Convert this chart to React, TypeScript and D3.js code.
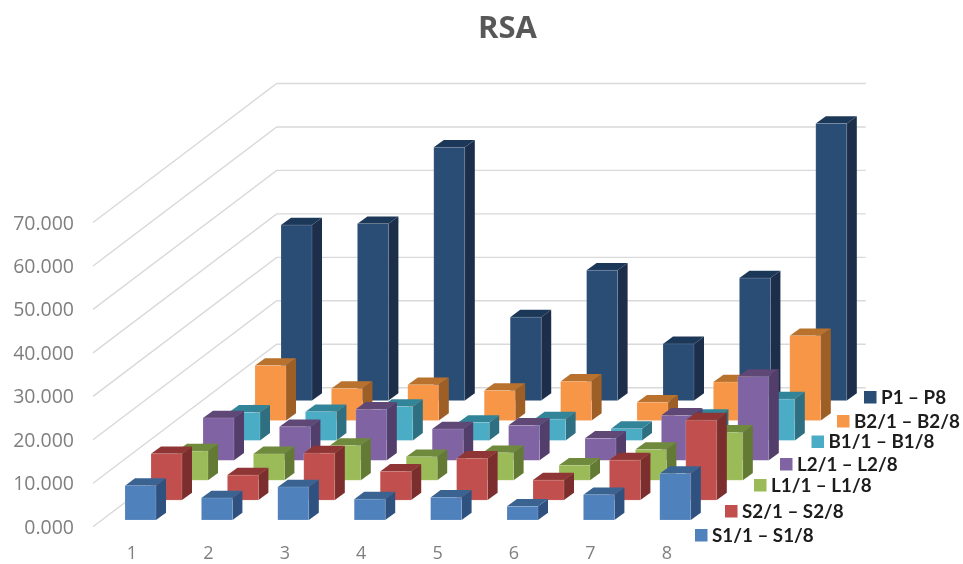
import * as d3 from "d3";

const categories = ["1", "2", "3", "4", "5", "6", "7", "8"];
const seriesNames = ["S1", "S2", "L1", "L2", "B1", "B2", "P"];
const legendLabels = [
  "S1/1 – S1/8",
  "S2/1 – S2/8",
  "L1/1 – L1/8",
  "L2/1 – L2/8",
  "B1/1 – B1/8",
  "B2/1 – B2/8",
  "P1 – P8",
];

const s1 = [7.9, 5.06, 7.6, 4.8, 5.2, 3.15, 5.8, 10.7];
const s2 = [10.65, 5.75, 10.8, 6.6, 9.6, 4.6, 9.2, 18.4];
const l1 = [6.7, 6.05, 8.0, 5.4, 6.3, 3.45, 7.05, 11.0];
const l2 = [9.75, 7.7, 11.75, 7.2, 8.05, 5.05, 10.35, 19.25];
const b1 = [6.45, 6.6, 7.8, 4.1, 4.9, 2.7, 5.5, 9.5];
const b2 = [12.65, 7.35, 8.2, 6.9, 9.0, 4.2, 8.85, 19.5];
const p = [40.4, 40.7, 58.3, 19.2, 30.0, 13.05, 28.2, 63.75];
const allSeries = [s1, s2, l1, l2, b1, b2, p];

const frontColors = ["#4f81bd", "#c0504d", "#9bbb59", "#8064a2", "#4bacc6", "#f79646", "#2c4d75"];
const topColors = ["#3a6492", "#8f3634", "#6f8a3c", "#5e4676", "#338599", "#b8722f", "#1f3858"];
const sideColors = ["#2f5180", "#7b2f2d", "#637a34", "#533e6a", "#2d6f82", "#9e5e27", "#1b2f4a"];

const yTicks = [0, 10, 20, 30, 40, 50, 60, 70];

// legend sits on a diagonal, one row per series, from the front row to the back
const legendX = d3.scaleOrdinal<string, number>().domain(seriesNames).range([695, 725, 754, 780, 811.5, 837, 864]);
const legendY = d3.scaleOrdinal<string, number>().domain(seriesNames).range([535, 511, 485, 464, 441.5, 421, 397]);

const width = 963;
const height = 564;
const barDepthX = 10;
const barDepthY = 7.3;

export default function App() {
  const xScale = d3
    .scaleBand<string>()
    .domain(categories)
    .range([102.3, 713.5])
    .paddingInner(0.594)
    .paddingOuter(0.297);
  const heightScale = d3.scaleLinear().domain([0, 70]).range([0, 304.2]);
  const rowX = d3.scalePoint<string>().domain(seriesNames).range([0, 156]);
  const rowBase = d3.scalePoint<string>().domain(seriesNames).range([520, 400.6]);

  // walls: left end, back corner and right end of each gridline
  const wallY = d3.scaleLinear().domain([0, 70]).range([526.7, 222.5]);
  const wallLeft = 93;
  const wallCornerX = 276.7;
  const wallRight = 865.7;
  const wallRise = 139;
  const gridLine = d3.line();

  const bw = xScale.bandwidth();
  const poly = (pts: [number, number][]) => pts.map((q) => q.join(",")).join(" ");

  return (
    <svg
      width={width}
      height={height}
      style={{ position: "absolute", left: 0, top: 0, background: "white" }}
    >
      <defs>
        <filter id="soft" x="0" y="0" width="100%" height="100%">
          <feGaussianBlur stdDeviation="0.4" />
        </filter>
      </defs>
      <g filter="url(#soft)">
        <text
          x={507.5}
          y={38}
          textAnchor="middle"
          fontFamily="'Open Sans'"
          fontWeight={700}
          fontSize={31}
          fill="#595959"
        >
          RSA
        </text>

        {yTicks.map((t) => (
          <g key={t}>
            <path
              d={
                gridLine([
                  [wallLeft, wallY(t)],
                  [wallCornerX, wallY(t) - wallRise],
                  [wallRight, wallY(t) - wallRise],
                ]) as string
              }
              fill="none"
              stroke="#d9d9d9"
              strokeWidth={1.4}
            />
            <text
              x={74}
              y={wallY(t)}
              dy="0.36em"
              textAnchor="end"
              fontFamily="'Open Sans'"
              fontSize={19.5}
              fill="#7f7f7f"
            >
              {d3.format(".3f")(t)}
            </text>
          </g>
        ))}

        {categories.map((c) => (
          <text
            key={c}
            x={(xScale(c) as number) + bw / 2 - 8.5}
            y={552.5}
            dy="0.36em"
            textAnchor="middle"
            fontFamily="'Open Sans'"
            fontSize={18}
            fill="#7f7f7f"
          >
            {c}
          </text>
        ))}

        {/* back row first so the front rows cover it */}
        {seriesNames
          .map((name, i) => ({ name, i }))
          .reverse()
          .map(({ name, i }) => (
            <g key={name}>
              {allSeries[i].map((v, j) => {
                const x0 = (xScale(categories[j]) as number) + (rowX(name) as number);
                const x1 = x0 + bw;
                const base = rowBase(name) as number;
                const top = base - heightScale(v);
                return (
                  <g key={j}>
                    <polygon
                      points={poly([
                        [x1, base],
                        [x1 + barDepthX, base - barDepthY],
                        [x1 + barDepthX, top - barDepthY],
                        [x1, top],
                      ])}
                      fill={sideColors[i]}
                    />
                    <polygon
                      points={poly([
                        [x0, top],
                        [x0 + barDepthX, top - barDepthY],
                        [x1 + barDepthX, top - barDepthY],
                        [x1, top],
                      ])}
                      fill={topColors[i]}
                    />
                    <rect
                      x={x0}
                      y={top}
                      width={bw}
                      height={heightScale(v)}
                      fill={frontColors[i]}
                      stroke="#ffffff"
                      strokeOpacity={0.25}
                      strokeWidth={0.6}
                    />
                  </g>
                );
              })}
            </g>
          ))}

        {seriesNames.map((name, i) => (
          <g key={name}>
            <rect
              x={legendX(name)}
              y={legendY(name) - 6}
              width={12.5}
              height={12.5}
              fill={frontColors[i]}
            />
            <text
              x={legendX(name) + 17}
              y={legendY(name)}
              dy="0.36em"
              fontFamily="Lato"
              fontWeight={700}
              fontSize={18.8}
              fill="#1c1c1c"
            >
              {legendLabels[i]}
            </text>
          </g>
        ))}
      </g>
    </svg>
  );
}
